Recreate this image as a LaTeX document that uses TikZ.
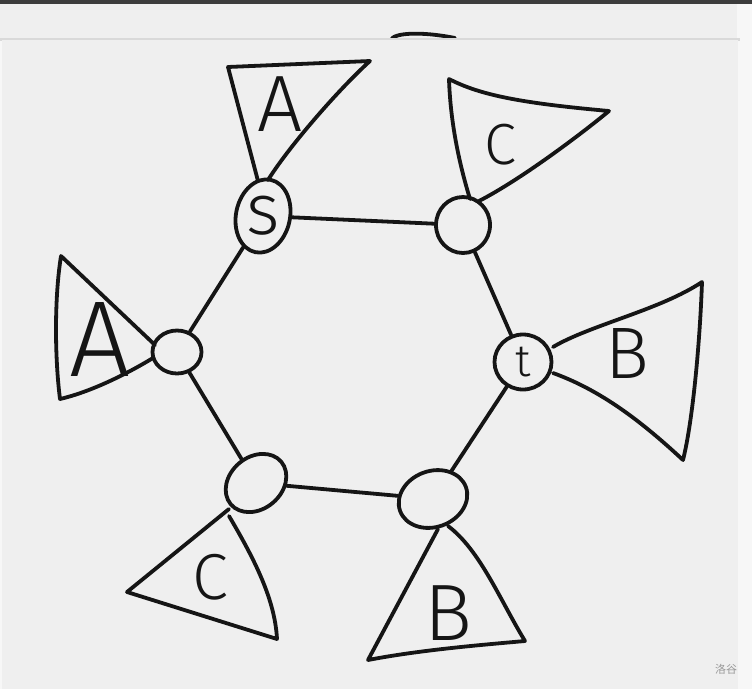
\documentclass[tikz,border=0pt]{standalone}
\usepackage{fontspec}
\usetikzlibrary{shapes.geometric}
\newfontfamily\cjk{Noto Sans CJK SC}
\IfFontExistsTF{Fira Sans Light}{\newfontfamily\hand{Fira Sans Light}}{\newcommand\hand{\sffamily}}
\newcommand\lsz[1]{\fontsize{#1}{#1}\selectfont}
\definecolor{paper}{HTML}{EFEFEF}
\definecolor{topbar}{HTML}{3C3C3C}
\definecolor{ink}{HTML}{151515}
\begin{document}
\begin{tikzpicture}[x=1pt,y=-1pt,line width=3.8pt,line cap=round,line join=round,
	vtx/.style={draw=ink,ellipse,inner sep=0pt},
	tri/.style={draw=ink},
	lbl/.style={inner sep=0pt,text=ink,font=\hand}]
	\useasboundingbox (0,0) rectangle (752,689);
	\fill[white!97!black] (0,0) rectangle (752,689);
	\fill[paper] (0,4) rectangle (737,38);
	\draw[ink] (391,40) .. controls (393,33) and (420,31) .. (455,38);
	\fill[white!85!black] (0,37.5) rectangle (740,40.5);
	\fill[paper] (2,40) rectangle (738,689);
	\fill[topbar] (0,0) rectangle (752,4);
	\node[vtx,minimum width=54pt,minimum height=74pt,rotate=-12] (s) at (263,216) {};
	\node[lbl] (ls) at (s.center) {\lsz{72}s};
	\node[vtx,minimum width=54pt,minimum height=56pt] (c1) at (463,225) {};
	\node[vtx,minimum width=57pt,minimum height=55pt] (t) at (523,362) {};
	\node[lbl] (lt) at (t.center) {\lsz{45}t};
	\node[vtx,minimum width=70pt,minimum height=56pt,rotate=20] (b2) at (433,499) {};
	\node[vtx,minimum width=66pt,minimum height=52pt,rotate=40] (c2) at (256,483) {};
	\node[vtx,minimum width=49pt,minimum height=43pt] (a2) at (177,352) {};
	\draw[ink] (s) -- (c1);
	\draw[ink] (c1) -- (t);
	\draw[ink] (t) -- (b2);
	\draw[ink] (b2) -- (c2);
	\draw[ink] (c2) -- (a2);
	\draw[ink] (a2) -- (s);
	\draw[tri] (258,181) -- (228,67) -- (370,61) .. controls (340,88) and (290,145) .. (268,180);
	\node[lbl] (la1) at (280,104) {\lsz{80}A};
	\draw[tri] (470,199) .. controls (455,150) and (450,110) .. (449,79) .. controls (480,95) and (520,103) .. (609,111) .. controls (580,135) and (520,180) .. (479,201);
	\node[lbl] (lc1) at (500,145) {\lsz{58}C};
	\draw[tri] (155,345) -- (61,256) .. controls (54,300) and (55,360) .. (60,399) .. controls (90,392) and (125,375) .. (153,358);
	\node[lbl] (la2) at (100,340) {\lsz{108}A};
	\draw[tri] (553,347) .. controls (590,325) and (660,310) .. (702,282) .. controls (700,340) and (693,420) .. (683,460) .. controls (640,420) and (600,390) .. (553,373);
	\node[lbl] (lb1) at (627,353) {\lsz{73}B};
	\draw[tri] (229,509) -- (127,592) -- (277,639) .. controls (275,600) and (255,560) .. (229,516);
	\node[lbl] (lc2) at (210,577) {\lsz{65}C};
	\draw[tri] (438,529) -- (368,660) .. controls (420,650) and (480,645) .. (525,641) .. controls (500,600) and (480,550) .. (448,526);
	\node[lbl] (lb2) at (448,613) {\lsz{80}B};
	\node[text=black!40,inner sep=0pt] (wm) at (726,669) {\cjk\lsz{11}洛谷};
\end{tikzpicture}
\end{document}
